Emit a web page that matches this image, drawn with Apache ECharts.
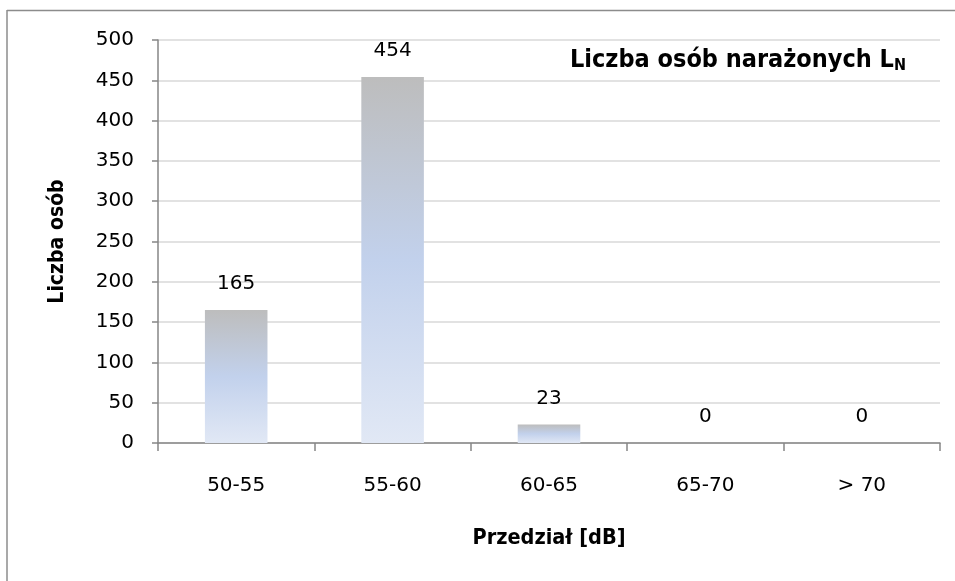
<!DOCTYPE html>
<html>
<head>
<meta charset="utf-8">
<script src="https://cdn.jsdelivr.net/npm/echarts@6/dist/echarts.min.js"></script>
<style>html,body{margin:0;padding:0;background:#fff;}#c{width:955px;height:581px;}</style>
</head>
<body>
<div id="c"></div>
<script>
const categories = ['50-55', '55-60', '60-65', '65-70', '> 70'];
const values = [165, 454, 23, 0, 0];
const yTicks = { min: 0, max: 500, interval: 50 };

const FONT = '"DejaVu Sans", "Liberation Sans", sans-serif';
const BFONT = '"DejaVu Sans Condensed", "DejaVu Sans", sans-serif';
const chart = echarts.init(document.getElementById('c'));
const barColor = {
  type: 'linear', x: 0, y: 0, x2: 0, y2: 1,
  colorStops: [
    { offset: 0, color: '#bdbdbd' },
    { offset: 0.5, color: '#c2d1ec' },
    { offset: 1, color: '#e1e8f5' }
  ]
};
chart.setOption({
  animation: false,
  backgroundColor: '#fff',
  graphic: [
    { type: 'line', shape: { x1: 7, y1: 10.5, x2: 955, y2: 10.5 }, style: { stroke: '#8c8c8c', lineWidth: 1.5 } },
    { type: 'line', shape: { x1: 7, y1: 10, x2: 7, y2: 581 }, style: { stroke: '#8c8c8c', lineWidth: 1.5 } }
  ],
  title: {
    text: '{a|Liczba osób narażonych L}{b|N}',
    left: 565, top: 41,
    textStyle: {
      rich: {
        a: { fontFamily: BFONT, fontWeight: 'bold', fontSize: 25, color: '#000' },
        b: { fontFamily: BFONT, fontWeight: 'bold', fontSize: 16, color: '#000', padding: [12, 0, 0, 0] }
      }
    }
  },
  grid: { left: 158, right: 15, top: 40, bottom: 138, containLabel: false },
  xAxis: {
    type: 'category',
    data: categories,
    name: 'Przedział [dB]',
    nameLocation: 'middle',
    nameGap: 84,
    nameTextStyle: { fontFamily: BFONT, fontWeight: 'bold', fontSize: 21.5, color: '#000' },
    axisLine: { lineStyle: { color: '#868686', width: 1.5 } },
    axisTick: { show: true, length: 8, alignWithLabel: false, lineStyle: { color: '#868686', width: 1.5 } },
    axisLabel: { fontFamily: FONT, fontSize: 20, color: '#000', margin: 33 }
  },
  yAxis: {
    type: 'value',
    min: yTicks.min, max: yTicks.max, interval: yTicks.interval,
    name: 'Liczba osób',
    nameLocation: 'middle',
    nameGap: 90,
    nameRotate: 90,
    nameTextStyle: { fontFamily: BFONT, fontWeight: 'bold', fontSize: 21, color: '#000' },
    axisLine: { show: true, lineStyle: { color: '#868686', width: 1.5 } },
    axisTick: { show: true, length: 6, inside: false, lineStyle: { color: '#868686', width: 1.5 } },
    axisLabel: { fontFamily: FONT, fontSize: 20, color: '#000', margin: 24 },
    splitLine: { show: true, lineStyle: { color: '#d9d9d9', width: 1.5 } }
  },
  series: [{
    type: 'bar',
    data: values,
    barWidth: '40%',
    itemStyle: { color: barColor },
    label: {
      show: true, position: 'top', distance: 16,
      fontFamily: FONT, fontSize: 20, color: '#000'
    }
  }]
});
</script>
</body>
</html>
